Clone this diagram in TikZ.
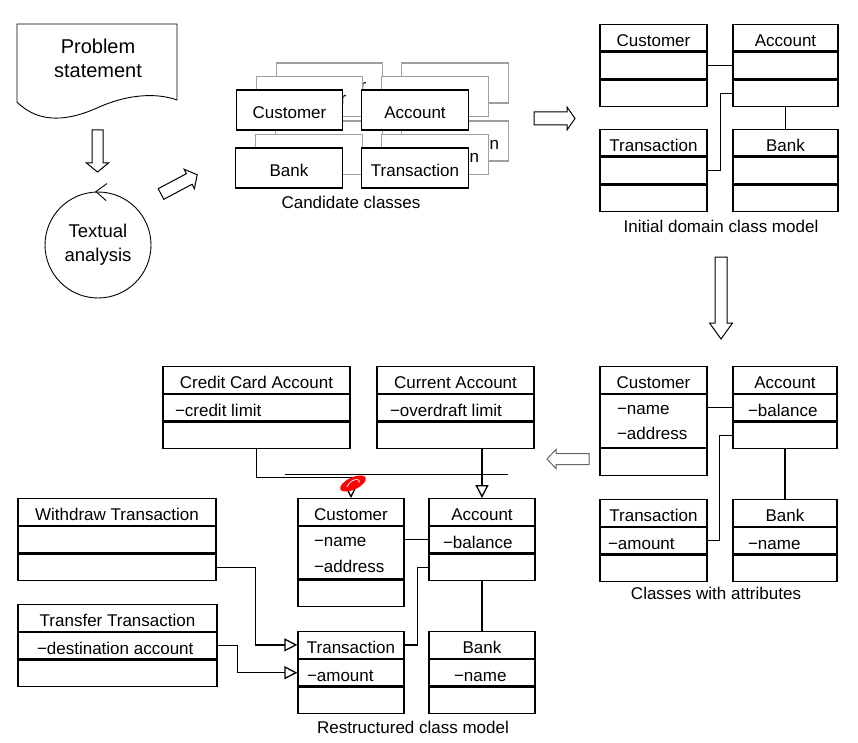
\documentclass[tikz,border=0pt]{standalone}
\usepackage{fontspec}
\setmainfont{Liberation Sans}
\usepackage{tikz}
\usetikzlibrary{positioning, calc, arrows.meta}

\tikzset{
  cls/.style={draw, fill=white, inner sep=0pt, minimum width=#1, minimum height=26.5,
    font=\fontsize{17}{20}\selectfont, text height=16.6pt, text depth=0pt},
  cls/.default=107,
  cand/.style={cls=106.5, minimum height=40},
  back/.style={cand, draw=gray!75, line width=1.1pt},
  attr/.style={inner sep=0pt, anchor=west, font=\fontsize{17}{20}\selectfont,
    text height=16.6pt, text depth=0pt},
  caption/.style={inner sep=0pt, anchor=base, font=\fontsize{17}{20}\selectfont},
  gen/.style={-{Triangle[open, length=13pt, width=13pt]}},
  hollow/.style={draw, fill=white, line width=1pt, line join=miter},
}

\begin{document}
\begin{tikzpicture}[x=1pt, y=-1pt, line width=1.3pt]
  \useasboundingbox (0,0) rectangle (858,743);

  % problem statement and textual analysis
  \draw[line width=0.9pt] (17,24) -- (177,24) -- (177,100) .. controls (155,92) and (125,95) .. (97,108)
    .. controls (70,120) and (40,125) .. (17,102) -- cycle;
  \node[inner sep=0pt, align=center, font=\fontsize{20}{24}\selectfont] (prob) at (98,58) {Problem\\statement};
  \node[draw, circle, minimum size=106, inner sep=0pt, align=center, line width=0.9pt,
    font=\fontsize{18.5}{24}\selectfont] (txt) at (98,245) {Textual\\analysis};
  \draw[line width=0.9pt] (txt.north) ++(9,-8) -- ++(-11,8) -- ++(10,9);

  \draw[hollow, shift={(97.5,130)}, rotate=-90] (0,-5.5) -- (33,-5.5) -- (33,-11) -- (42,0) -- (33,11) -- (33,5.5) -- (0,5.5) -- cycle;
  \draw[hollow, shift={(161,194)}, rotate=28] (0,-6) -- (32,-6) -- (32,-11) -- (41,0) -- (32,11) -- (32,6) -- (0,6) -- cycle;

  % candidate classes
  \node[back] (cCust3) at (329.5,83) {Customer};
  \node[back] (cAcc3) at (455,83) {Account};
  \node[back] (cBank3) at (329,141) {Bank};
  \node[back] (cTrans3) at (455,141) {Transaction};
  \node[back] (cCust2) at (309.5,96.5) {Customer};
  \node[back] (cAcc2) at (435,96.5) {Account};
  \node[back] (cBank2) at (309,154.5) {Bank};
  \node[back] (cTrans2) at (435,154.5) {Transaction};
  \node[cand] (cCust) at (289.5,110) {Customer};
  \node[cand] (cAcc) at (415,110) {Account};
  \node[cand] (cBank) at (289,168) {Bank};
  \node[cand] (cTrans) at (415,168) {Transaction};
  \node[caption] (cCap) at (351,208) {Candidate classes};

  \draw[hollow, shift={(534,118.5)}] (0,-6.5) -- (33,-6.5) -- (33,-11.5) -- (41,0) -- (33,11.5) -- (33,6.5) -- (0,6.5) -- cycle;

  % initial domain class model
  \node[cls, anchor=north] (iCust) at (653.5,24) {Customer};
  \node[cls, below=0pt of iCust] (iCusta) {};
  \node[cls, below=0pt of iCusta] (iCusto) {};
  \node[cls=105, anchor=north] (iAcc) at (785.5,24) {Account};
  \node[cls=105, below=0pt of iAcc] (iAcca) {};
  \node[cls=105, below=0pt of iAcca] (iAcco) {};
  \node[cls, anchor=north] (iTrans) at (653.5,129) {Transaction};
  \node[cls, below=0pt of iTrans] (iTransa) {};
  \node[cls, below=0pt of iTransa] (iTranso) {};
  \node[cls=105, anchor=north] (iBank) at (785.5,129) {Bank};
  \node[cls=105, below=0pt of iBank] (iBanka) {};
  \node[cls=105, below=0pt of iBanka] (iBanko) {};
  \node[caption] (iCap) at (721,233) {Initial domain class model};
  \draw (iCusta.east) -- (iAcca.west);
  \draw (iTransa.east) -- ++(13,0) |- (iAcco.west);
  \draw (iAcco.south) -- (iBank.north);

  \draw[hollow, shift={(721,257)}, rotate=-90] (0,-6) -- (66,-6) -- (66,-11.5) -- (82,0) -- (66,11.5) -- (66,6) -- (0,6) -- cycle;

  % classes with attributes
  \node[cls, anchor=north] (aCust) at (653.5,366) {Customer};
  \node[cls, minimum height=53, below=0pt of aCust] (aCusta) {};
  \node[cls, below=0pt of aCusta] (aCusto) {};
  \node[attr] (aCustn) at ($(aCusta.west)+(17,-14.5)$) {−name};
  \node[attr] (aCustd) at ($(aCusta.west)+(17,10.5)$) {−address};
  \node[cls=104, anchor=north] (aAcc) at (785,366) {Account};
  \node[cls=104, below=0pt of aAcc] (aAcca) {};
  \node[cls=104, below=0pt of aAcca] (aAcco) {};
  \node[attr, right=15pt of aAcca.west] (aAccb) {−balance};
  \node[cls, anchor=north] (aTrans) at (653.5,499) {Transaction};
  \node[cls, below=0pt of aTrans] (aTransa) {};
  \node[cls, below=0pt of aTransa] (aTranso) {};
  \node[attr, right=8pt of aTransa.west] (aTransm) {−amount};
  \node[cls=104, anchor=north] (aBank) at (785,499) {Bank};
  \node[cls=104, below=0pt of aBank] (aBanka) {};
  \node[cls=104, below=0pt of aBanka] (aBanko) {};
  \node[attr, right=15pt of aBanka.west] (aBankn) {−name};
  \node[caption] (aCap) at (716,599) {Classes with attributes};
  \draw (aAcca.west) -- (aAcca.west -| aCust.east);
  \draw (aTransa.east) -- ++(12,0) |- (aAcco.west);
  \draw (aAcco.south) -- (aBank.north);

  \draw[hollow, draw=black!60, shift={(589,459)}, rotate=180] (0,-5.5) -- (33,-5.5) -- (33,-9.5) -- (42,0) -- (33,9.5) -- (33,5.5) -- (0,5.5) -- cycle;

  % restructured class model
  \node[cls=187, anchor=north] (rCredit) at (256.5,366) {Credit Card Account};
  \node[cls=187, below=0pt of rCredit] (rCredita) {};
  \node[cls=187, below=0pt of rCredita] (rCredito) {};
  \node[attr, right=12pt of rCredita.west] (rCreditl) {−credit limit};
  \node[cls=157, anchor=north] (rCurr) at (455.5,366) {Current Account};
  \node[cls=157, below=0pt of rCurr] (rCurra) {};
  \node[cls=157, below=0pt of rCurra] (rCurro) {};
  \node[attr, right=13pt of rCurra.west] (rCurrl) {−overdraft limit};
  \node[cls=198, anchor=north] (rWith) at (117,498) {Withdraw Transaction};
  \node[cls=198, below=0pt of rWith] (rWitha) {};
  \node[cls=198, below=0pt of rWitha] (rWitho) {};
  \node[cls=199, anchor=north] (rTransf) at (117.5,604) {Transfer Transaction};
  \node[cls=199, below=0pt of rTransf] (rTransfa) {};
  \node[cls=199, below=0pt of rTransfa] (rTransfo) {};
  \node[attr, right=19pt of rTransfa.west] (rTransfd) {−destination account};
  \node[cls=106, anchor=north] (rCust) at (351,498) {Customer};
  \node[cls=106, minimum height=52.5, below=0pt of rCust] (rCusta) {};
  \node[cls=106, below=0pt of rCusta] (rCusto) {};
  \node[attr] (rCustn) at ($(rCusta.west)+(16,-15)$) {−name};
  \node[attr] (rCustd) at ($(rCusta.west)+(16,11)$) {−address};
  \node[cls=106, anchor=north] (rAcc) at (482,498) {Account};
  \node[cls=106, below=0pt of rAcc] (rAcca) {};
  \node[cls=106, below=0pt of rAcca] (rAcco) {};
  \node[attr, right=14pt of rAcca.west] (rAccb) {−balance};
  \node[cls=106, anchor=north] (rTrans) at (351,631) {Transaction};
  \node[cls=106, below=0pt of rTrans] (rTransa) {};
  \node[cls=106, below=0pt of rTransa] (rTranso) {};
  \node[attr, right=9pt of rTransa.west] (rTransm) {−amount};
  \node[cls=106, anchor=north] (rBank) at (482,631) {Bank};
  \node[cls=106, below=0pt of rBank] (rBanka) {};
  \node[cls=106, below=0pt of rBanka] (rBanko) {};
  \node[attr, right=25pt of rBanka.west] (rBankn) {−name};
  \node[caption] (rCap) at (413,733) {Restructured class model};

  \draw (rAcca.west) -- (rAcca.west -| rCust.east);
  \draw (rTrans.east) -- ++(13,0) |- (rAcco.west);
  \draw (rAcco.south) -- (rBank.north);
  \draw[gen] (rWitho.east) -- ++(39,0) |- (rTrans.west);
  \draw[gen] (rTransfa.east) -- ++(20,0) |- (rTransa.west);
  \draw[gen] (rCredito.south) -- ++(0,28) -| (rCust.north);
  \draw[gen] (rCurro.south -| rAcc.north) -- (rAcc.north);

  \coordinate (cut1) at (285,474);
  \coordinate (cut2) at (508,474);
  \draw[line width=0.6pt] (cut1) -- (cut2);

  % red mark
  \fill[red, rotate around={25:(353,483.5)}] (353,483.5) ellipse (14 and 6);
  \draw[white, line width=0.8pt] (347,487) .. controls (350,479) and (361,477) .. (359,483);
\end{tikzpicture}
\end{document}
